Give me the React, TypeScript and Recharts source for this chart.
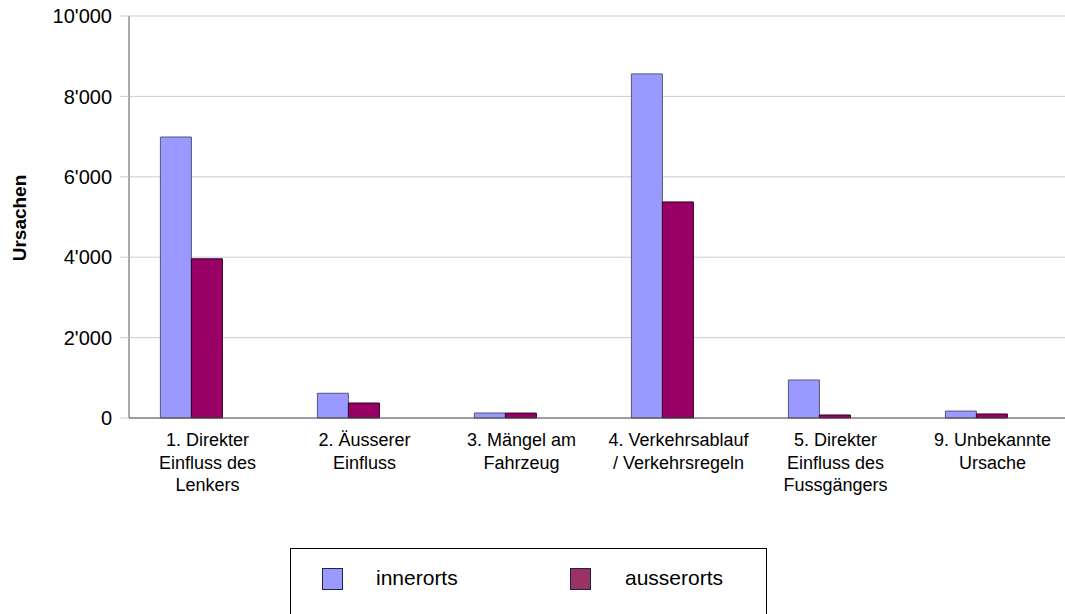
import React from 'react';
import { BarChart, Bar, XAxis, YAxis, CartesianGrid, Label } from 'recharts';

const categories = [
  '1. Direkter\nEinfluss des\nLenkers',
  '2. Äusserer\nEinfluss',
  '3. Mängel am\nFahrzeug',
  '4. Verkehrsablauf\n/ Verkehrsregeln',
  '5. Direkter\nEinfluss des\nFussgängers',
  '9. Unbekannte\nUrsache',
];
const innerorts = [6990, 615, 124, 8560, 945, 172];
const ausserorts = [3960, 373, 122, 5375, 75, 100];
// empty third slot, keeps the bar pairs left of the label centre as in the original
const spacer = [null, null, null, null, null, null];
const yTicks = [0, 2000, 4000, 6000, 8000, 10000];

const seriesNames = ['innerorts', 'ausserorts'];
const barColors = ['#9999ff', '#990066'];
const legendColors = ['#9999ff', '#993366'];

const data = categories.map((name, i) => ({
  name,
  innerorts: innerorts[i],
  ausserorts: ausserorts[i],
  spacer: spacer[i],
}));

const font = '"Liberation Sans", Arial, sans-serif';

const fmt = (v: number) => {
  if (v < 1000) return String(v);
  const th = Math.floor(v / 1000);
  return `${th}'${String(v % 1000).padStart(3, '0')}`;
};

const CategoryTick = (props: any) => {
  const { x, y, payload } = props;
  const lines = String(payload.value).split('\n');
  return (
    <g transform={`translate(${x},${y})`}>
      {lines.map((l: string, i: number) => (
        <text key={i} x={0} y={20 + i * 22.5} textAnchor="middle" fontSize={18} fill="#000" fontFamily={font}>
          {l}
        </text>
      ))}
    </g>
  );
};

const YTitle = () => {
  const cy = 218;
  const cx = 26;
  return (
    <text
      x={cx}
      y={cy}
      transform={`rotate(-90 ${cx} ${cy})`}
      textAnchor="middle"
      fontSize={19}
      fontWeight="bold"
      fill="#000"
      fontFamily={font}
    >
      Ursachen
    </text>
  );
};

export default function App() {
  return (
    <div style={{ position: 'absolute', left: 0, top: 0, width: 1065, height: 614, background: '#fff', overflow: 'hidden' }}>
      {/* plot runs a few px past the right edge, like the cropped original */}
      <BarChart
        width={1071}
        height={530}
        data={data}
        margin={{ top: 16, right: 0, left: 0, bottom: 0 }}
        barCategoryGap="20%"
        barGap={0}
      >
        <CartesianGrid vertical={false} stroke="#ccccdd" />
        <XAxis
          dataKey="name"
          height={112}
          interval={0}
          tick={<CategoryTick />}
          tickLine={false}
          axisLine={{ stroke: '#555' }}
        />
        <YAxis
          width={129}
          domain={[0, 10000]}
          ticks={yTicks}
          tickFormatter={fmt}
          tickSize={9}
          tickMargin={8}
          tickLine={{ stroke: '#ccccdd' }}
          axisLine={{ stroke: '#555' }}
          tick={{ fill: '#000', fontSize: 20, fontFamily: font }}
          interval={0}
        >
          <Label content={<YTitle />} />
        </YAxis>
        <Bar dataKey="innerorts" fill={barColors[0]} stroke="#555577" strokeWidth={1} isAnimationActive={false} />
        <Bar dataKey="ausserorts" fill={barColors[1]} stroke="#330022" strokeWidth={1} isAnimationActive={false} />
        <Bar dataKey="spacer" fill="none" legendType="none" isAnimationActive={false} />
      </BarChart>
      <div
        style={{
          position: 'absolute',
          left: 290,
          top: 548,
          width: 475,
          height: 90,
          border: '1px solid #000',
          fontFamily: font,
          fontSize: 21,
          color: '#000',
        }}
      >
        {seriesNames.map((s, i) => (
          <React.Fragment key={s}>
            <div
              style={{
                position: 'absolute',
                left: 31 + i * 248,
                top: 19,
                width: 19,
                height: 20,
                background: legendColors[i],
                border: '1px solid #222244',
              }}
            />
            <div style={{ position: 'absolute', left: 85 + i * 249, top: 17, lineHeight: '24px' }}>{s}</div>
          </React.Fragment>
        ))}
      </div>
    </div>
  );
}
